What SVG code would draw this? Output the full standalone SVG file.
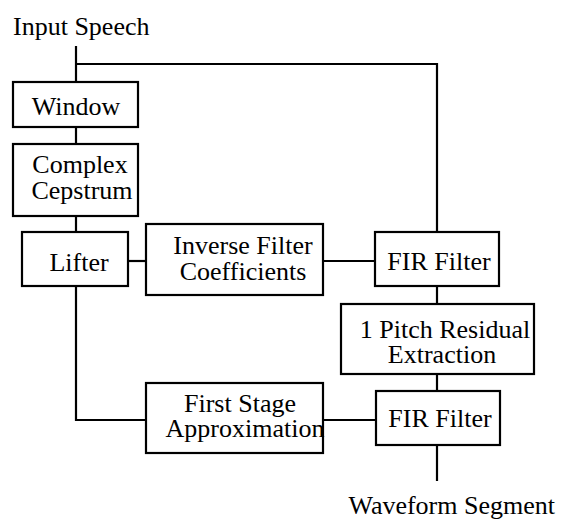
<svg xmlns="http://www.w3.org/2000/svg" width="562" height="520" viewBox="0 0 562 520">
<style>
.box{fill:#fff;stroke:#000;stroke-width:2.2}
.ln{fill:none;stroke:#000;stroke-width:2.2}
text{font-family:"Liberation Serif","Times New Roman",serif;font-size:26px;fill:#000;text-anchor:middle}
</style>
<rect width="562" height="520" fill="#fff"/>
<g id="connectors">
<polyline class="ln" points="76,46 76,82"/>
<polyline class="ln" points="76,64 437,64 437,232"/>
<polyline class="ln" points="76,127 76,144"/>
<polyline class="ln" points="76,216 76,232"/>
<polyline class="ln" points="128,261 146,261"/>
<polyline class="ln" points="323,261 375,261"/>
<polyline class="ln" points="437,286 437,304"/>
<polyline class="ln" points="437,374 437,391"/>
<polyline class="ln" points="76,286 76,420 146,420"/>
<polyline class="ln" points="323,420 376,420"/>
<polyline class="ln" points="437,445 437,481"/>
</g>
<g id="input"><text x="13" y="35" style="text-anchor:start">Input Speech</text></g>
<g id="window"><rect class="box" x="13" y="82" width="125" height="45"/><text x="76" y="115">Window</text></g>
<g id="cepstrum"><rect class="box" x="13" y="144" width="125" height="72"/><text x="80" y="173">Complex</text><text x="82" y="199">Cepstrum</text></g>
<g id="lifter"><rect class="box" x="22" y="232" width="106" height="54"/><text x="79" y="271">Lifter</text></g>
<g id="inverse"><rect class="box" x="146" y="224" width="177" height="71"/><text x="243" y="254">Inverse Filter</text><text x="243" y="280">Coefficients</text></g>
<g id="fir1"><rect class="box" x="375" y="232" width="124" height="54"/><text x="439" y="270">FIR Filter</text></g>
<g id="pitch"><rect class="box" x="341" y="304" width="193" height="70"/><text x="445" y="338">1 Pitch Residual</text><text x="442" y="363">Extraction</text></g>
<g id="firststage"><rect class="box" x="146" y="383" width="177" height="70"/><text x="240" y="412">First Stage</text><text x="245" y="437">Approximation</text></g>
<g id="fir2"><rect class="box" x="376" y="391" width="124" height="54"/><text x="440" y="427">FIR Filter</text></g>
<g id="output"><text x="555" y="514" style="text-anchor:end">Waveform Segment</text></g>
</svg>
